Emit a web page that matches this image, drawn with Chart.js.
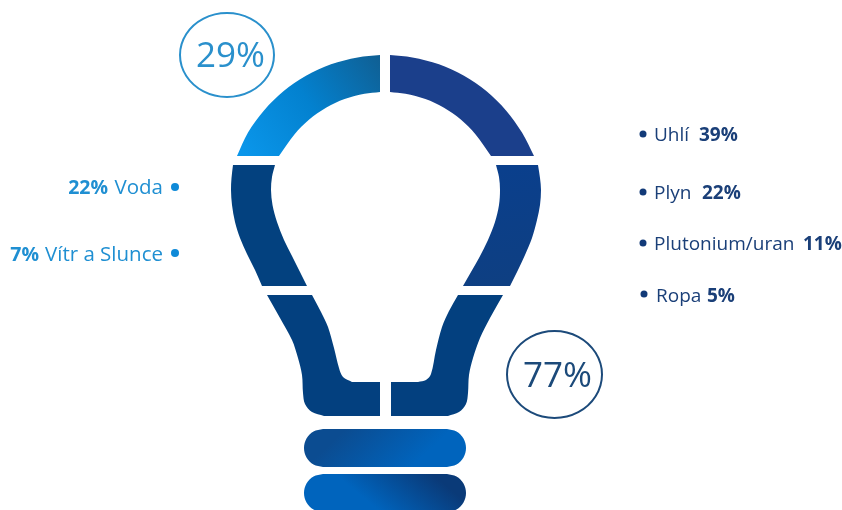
<!DOCTYPE html>
<html>
<head>
<meta charset="utf-8">
<title>Mix zdrojů elektřiny</title>
<script src="https://cdn.jsdelivr.net/npm/chart.js@4"></script>
<style>
  html, body { margin: 0; padding: 0; background: #fff; }
  canvas { display: block; }
</style>
</head>
<body>
<canvas id="bulb-chart" width="842" height="510"></canvas>
<script>
const cleanLabels = ["Voda", "Vítr a Slunce"];
const cleanValues = [22, 7];
const dirtyLabels = ["Uhlí", "Plyn", "Plutonium/uran", "Ropa"];
const dirtyValues = [39, 22, 11, 5];
const totalValues = [29, 77];

// Bulb outlines, one list per edge; neighbouring edges meet at a hard corner
const glassTopLeft = [
  [[380, 55], [357.6, 57.4], [331, 64.3], [306, 75.8], [283.4, 91.3], [264, 110.4], [248, 132.5], [237, 156]],
  [[237, 156], [279, 156]],
  [[279, 156], [294.6, 134.2], [309.2, 119.6], [326, 107.8], [344.6, 99.1], [364.5, 93.8], [380, 92]],
  [[380, 92], [380, 55]],
];
const glassTopRight = [
  [[390, 55], [412.4, 57.4], [439, 64.3], [464, 75.8], [486.6, 91.3], [506, 110.4], [522, 132.5], [534, 156]],
  [[534, 156], [491, 156]],
  [[491, 156], [475.4, 134.2], [460.8, 119.6], [444, 107.8], [425.4, 99.1], [405.5, 93.8], [390, 92]],
  [[390, 92], [390, 55]],
];
const glassMidLeft = [
  [[233, 165], [231.5, 178], [231, 190], [232, 205], [235, 222], [240, 238], [247, 254], [255, 270], [262, 286]],
  [[262, 286], [307, 286]],
  [[307, 286], [300, 272], [292, 256], [284, 240], [277, 222], [272.5, 205], [271, 190], [272, 177], [275, 165]],
  [[275, 165], [233, 165]],
];
const glassMidRight = [
  [[538, 165], [540, 178], [541, 190], [540, 205], [537, 220], [532, 238], [525, 255], [518, 270], [510, 286]],
  [[510, 286], [463, 286]],
  [[463, 286], [471, 272], [479, 258], [488, 240], [495, 222], [499, 205], [500, 190], [499, 177], [496, 165]],
  [[496, 165], [538, 165]],
];
const neckLeft = [
  [[267, 295], [312, 295]],
  [[312, 295], [321, 312], [328, 327], [334, 348], [339, 368], [343, 377], [352, 382]],
  [[352, 382], [380, 382]],
  [[380, 382], [380, 416]],
  [[380, 416], [324, 416]],
  [[324, 416], [312, 412], [305, 404], [303, 393], [302, 375], [298, 358], [292, 340], [280, 318], [267, 295]],
];
const neckRight = [
  [[458, 295], [503, 295]],
  [[503, 295], [490, 318], [480, 338], [473, 358], [469, 375], [468, 393], [466, 404], [459, 412], [448, 416]],
  [[448, 416], [391, 416]],
  [[391, 416], [391, 382]],
  [[391, 382], [418, 382]],
  [[418, 382], [426, 380], [431, 374], [436, 350], [442, 327], [449, 311], [458, 295]],
];
const capUpper = [
  [[323, 429], [447, 429]],
  [[447, 429], [456.5, 431.5], [463.5, 438.5], [466, 448], [463.5, 457.5], [456.5, 464.5], [447, 467]],
  [[447, 467], [323, 467]],
  [[323, 467], [313.5, 464.5], [306.5, 457.5], [304, 448], [306.5, 438.5], [313.5, 431.5], [323, 429]],
];
const capLower = [
  [[323, 474], [447, 474]],
  [[447, 474], [456.5, 476.5], [463.5, 483.5], [466, 493], [463.5, 502.5], [456.5, 509.5], [447, 512]],
  [[447, 512], [323, 512]],
  [[323, 512], [313.5, 509.5], [306.5, 502.5], [304, 493], [306.5, 483.5], [313.5, 476.5], [323, 474]],
];

// Rings round the two totals; the list runs one step past its start at both ends
const ringClean = [
  [203.5, 18.6], [227, 13], [250.5, 18.6], [267.7, 34], [274, 55], [267.7, 76], [250.5, 91.4],
  [227, 97], [203.5, 91.4], [186.3, 76], [180, 55], [186.3, 34], [203.5, 18.6], [227, 13], [250.5, 18.6],
];
const ringDirty = [
  [530.8, 336.8], [554.5, 331], [578.3, 336.8], [595.6, 352.8], [602, 374.5], [595.6, 396.3], [578.3, 412.2],
  [554.5, 418], [530.8, 412.2], [513.4, 396.3], [507, 374.5], [513.4, 352.8], [530.8, 336.8], [554.5, 331], [578.3, 336.8],
];

const cleanBullets = [[175, 187], [175, 253]];
const dirtyBullets = [[643, 134], [643, 192], [643, 243], [644, 294]];

const BLUE_LIGHT = "#1f8fd2";
const BLUE_DARK = "#1a3f78";

const toPoints = (list) => list.map(([x, y]) => ({ x, y }));
const edgesToPoints = (edges) => toPoints(edges.flat());

const canvas = document.getElementById("bulb-chart");
const ctx = canvas.getContext("2d");

function gradient(x0, y0, x1, y1, ...colors) {
  const g = ctx.createLinearGradient(x0, y0, x1, y1);
  colors.forEach((color, i) => g.addColorStop(i / (colors.length - 1), color));
  return g;
}

function shape(edges, color) {
  return {
    data: edgesToPoints(edges),
    showLine: true,
    fill: "shape",
    backgroundColor: color,
    borderWidth: 0,
    pointRadius: 0,
    tension: 0.33,
  };
}

function ring(list, color) {
  const last = list.length - 2;
  return {
    data: toPoints(list),
    showLine: true,
    fill: false,
    borderColor: color,
    borderWidth: 2,
    pointRadius: 0,
    tension: 0.33,
    // the run-in and run-out steps only shape the curve
    segment: {
      borderColor: (c) => (c.p0DataIndex === 0 || c.p0DataIndex === last ? "transparent" : undefined),
    },
  };
}

function bullets(list, color, radius) {
  return {
    data: toPoints(list),
    showLine: false,
    backgroundColor: color,
    borderWidth: 0,
    pointRadius: radius,
  };
}

// Text layers are drawn in axis units so they stay tied to the same scales
const textLabels = {
  id: "textLabels",
  afterDatasetsDraw(chart) {
    const c = chart.ctx;
    const sx = chart.scales.x;
    const sy = chart.scales.y;
    const put = (text, x, y, font, color, align) => {
      c.font = font;
      c.fillStyle = color;
      c.textAlign = align || "left";
      c.textBaseline = "alphabetic";
      c.fillText(text, sx.getPixelForValue(x), sy.getPixelForValue(y));
    };
    const big = "35px 'Open Sans'";

    put(totalValues[0] + "%", 230.5, 67, big, "#2a90cc", "center");
    put(totalValues[1] + "%", 557.5, 387, big, "#1c4a7a", "center");

    const leftName = "20.5px 'Open Sans'";
    const leftValue = "bold 19.5px 'Open Sans'";
    put(cleanValues[0] + "%", 108, 194, leftValue, BLUE_LIGHT, "right");
    put(cleanLabels[0], 163, 194, leftName, BLUE_LIGHT, "right");
    put(cleanValues[1] + "%", 39, 261, leftValue, BLUE_LIGHT, "right");
    put(cleanLabels[1], 163, 261, leftName, BLUE_LIGHT, "right");

    const rightName = "19px 'Open Sans'";
    const rightValue = "bold 19px 'Open Sans'";
    const rows = [[654, 699, 141], [654, 702, 199], [654, 803, 250], [656, 707, 302]];
    dirtyLabels.forEach((name, i) => {
      const [nameX, valueX, baseY] = rows[i];
      put(name, nameX, baseY, rightName, BLUE_DARK);
      put(dirtyValues[i] + "%", valueX, baseY, rightValue, BLUE_DARK);
    });
  },
};

new Chart(ctx, {
  type: "scatter",
  data: {
    datasets: [
      shape(glassTopLeft, gradient(245, 155, 380, 60, "#0a96ea", "#0381cf", "#0f6095")),
      shape(glassTopRight, "#1b3f8b"),
      shape(glassMidLeft, "#03417f"),
      shape(glassMidRight, gradient(500, 170, 520, 280, "#0a3f8c", "#0e3f82")),
      shape(neckLeft, "#03407f"),
      shape(neckRight, "#03407f"),
      shape(capUpper, gradient(350, 425, 400, 478, "#0b4c91", "#0064bd")),
      shape(capLower, gradient(390, 520, 430, 472, "#0064bd", "#0a3a78")),
      ring(ringClean, "#2a90cc"),
      ring(ringDirty, "#1c4a7a"),
      bullets(cleanBullets, "#0f8ad8", 4),
      bullets(dirtyBullets, "#123a78", 3.5),
    ],
  },
  options: {
    responsive: false,
    animation: false,
    layout: { padding: 0, autoPadding: false },
    plugins: {
      legend: { display: false },
      tooltip: { enabled: false },
    },
    scales: {
      x: { type: "linear", min: 0, max: 842, display: false },
      y: { type: "linear", min: 0, max: 510, reverse: true, display: false },
    },
    elements: { line: { capBezierPoints: false } },
  },
  plugins: [textLabels],
});
</script>
</body>
</html>
